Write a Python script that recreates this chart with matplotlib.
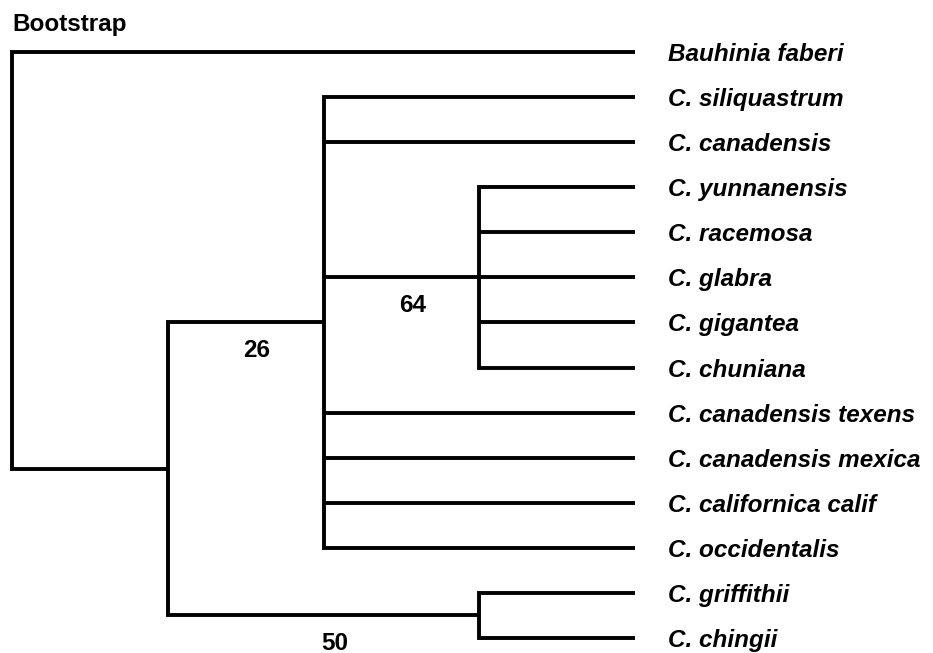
import matplotlib
matplotlib.use("Agg")
import matplotlib.pyplot as plt

# ---- data ----
title = "Bootstrap"
outgroup = ["Bauhinia faberi"]
clade_64 = ["C. yunnanensis", "C. racemosa", "C. glabra", "C. gigantea", "C. chuniana"]
clade_26_before = ["C. siliquastrum", "C. canadensis"]
clade_26_after = ["C. canadensis texens", "C. canadensis mexica",
                  "C. californica calif", "C. occidentalis"]
clade_50 = ["C. griffithii", "C. chingii"]
support_26 = 26
support_64 = 64
support_50 = 50

node64 = {"children": clade_64, "support": support_64}
node26 = {"children": clade_26_before + [node64] + clade_26_after, "support": support_26}
node50 = {"children": clade_50, "support": support_50}
ingroup = {"children": [node26, node50], "support": None}
root = {"children": outgroup + [ingroup], "support": None}

# ---- layout ----
counter = [0]
pos = {}


def height(n):
    if isinstance(n, str):
        return 0
    return 1 + max(height(c) for c in n["children"])


H = height(root)


def layout(n):
    if isinstance(n, str):
        y = counter[0]
        counter[0] += 1
        pos[n] = (H, y)
        return H, y
    ys = [layout(c)[1] for c in n["children"]]
    y = (ys[0] + ys[-1]) / 2
    x = H - height(n)
    pos[id(n)] = (x, y)
    return x, y


layout(root)


def p(n):
    return pos[n] if isinstance(n, str) else pos[id(n)]


fig = plt.figure(figsize=(9.33, 6.53), dpi=100)
ax = fig.add_axes([0, 0, 1, 1])
ax.set_xlim(-0.077, 5.913)
ax.set_ylim(13.332, -1.1535)
ax.axis("off")

lw = 2.8
fs = 17.5
font = "Liberation Sans"


def draw(n):
    if isinstance(n, str):
        x, y = p(n)
        ax.text(x + 0.21, y, n, fontsize=fs, fontweight="bold", fontstyle="italic",
                family=font, va="center_baseline", ha="left")
        return
    nx, ny = p(n)
    ch = n["children"]
    (x1, y1), (x2, y2) = p(ch[0]), p(ch[-1])
    ax.plot([x1, nx, nx, x2], [y1, y1, y2, y2], color="black", lw=lw,
            solid_joinstyle="miter", solid_capstyle="butt")
    for c in ch[1:-1]:
        cx, cy = p(c)
        ax.plot([nx, cx], [cy, cy], color="black", lw=lw, solid_capstyle="butt")
    for c in ch:
        if not isinstance(c, str) and c["support"] is not None:
            cx, cy = p(c)
            ax.text((nx + cx) / 2 + 0.07, cy + 0.56, str(c["support"]), fontsize=fs,
                    fontweight="bold", family=font, ha="center", va="center_baseline")
        draw(c)


draw(root)

fig.text(12 / 933, 1 - 31 / 653, title, fontsize=fs, fontweight="bold", family=font,
         ha="left", va="baseline")

fig.savefig("out.png", dpi=100)
